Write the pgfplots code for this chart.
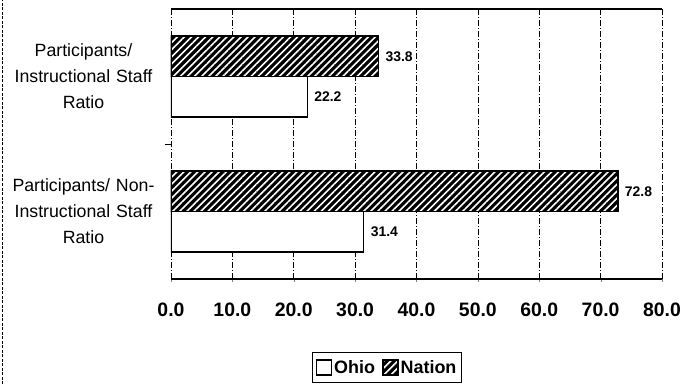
\documentclass[border=0pt]{standalone}
\usepackage{fontspec}
\setmainfont{Liberation Sans}
\usepackage{pgfplots}
\pgfplotsset{compat=1.18}
\usetikzlibrary{patterns.meta}

\begin{document}
\begin{tikzpicture}
\useasboundingbox (-171bp,-105bp) rectangle (523bp,279bp);
\draw[black, dash pattern=on 3bp off 1.5bp, line width=0.8pt] (-169bp,-105bp) -- (-169bp,279bp);
\begin{axis}[
  at={(0,0)}, anchor=south west,
  scale only axis, width=491bp, height=270bp,
  xbar, bar width=0.3,
  xmin=0, xmax=80, ymin=0.5, ymax=2.5,
  xtick={0,10,...,80},
  xtick pos=left, xtick align=outside,
  major tick length=3bp,
  xticklabel style={font=\fontsize{19.5}{22}\selectfont\bfseries, yshift=-17bp,
     /pgf/number format/fixed, /pgf/number format/fixed zerofill,
     /pgf/number format/precision=1, /pgf/number format/assume math mode=true},
  separate axis lines,
  x axis line style={line width=1.3pt},
  y axis line style={draw=none},
  xmajorgrids,
  grid style={black, dash pattern=on 6bp off 2bp on 1bp off 2bp, line width=0.7pt},
  ytick={1,2},
  yticklabels={{Participants/ Non-\\Instructional Staff\\Ratio},{Participants/\\Instructional Staff\\Ratio}},
  yticklabel style={align=center, text width=160bp, font=\fontsize{17.8}{26}\selectfont, xshift=-1bp},
  ytick style={draw=none},
  extra y ticks={1.5},
  extra y tick labels={},
  extra y tick style={ytick style={draw=black, line width=1pt}, ytick align=outside, ytick pos=left, major tick length=6bp, ymajorgrids=false},
  point meta=x,
  nodes near coords,
  nodes near coords style={font=\fontsize{14}{16}\selectfont\bfseries, anchor=west, xshift=3bp,
     /pgf/number format/fixed, /pgf/number format/fixed zerofill,
     /pgf/number format/precision=1, /pgf/number format/assume math mode=true},
  legend style={at={(0.44,-0.270)}, anchor=north, legend columns=2, draw=black, line width=0.8pt,
     font=\fontsize{18}{20}\selectfont\bfseries, inner xsep=3bp, inner ysep=6bp,
     /tikz/every even column/.append style={column sep=5bp}},
  legend image code/.code={\draw[#1, line width=1.6pt] (0bp,-7.5bp) rectangle (15bp,7.5bp);},
]
\addplot[draw=black, line width=1.5pt, fill=white, bar shift=0pt] coordinates {(22.2,1.85) (31.4,0.85)};
\addlegendentry{Ohio}
\addplot[draw=black, line width=1.5pt, fill=black, bar shift=0pt,
  postaction={pattern={Lines[angle=45,distance=5bp,line width=1.6bp]}, pattern color=white}]
  coordinates {(33.8,2.15) (72.8,1.15)};
\addlegendentry{Nation}
\end{axis}
\end{tikzpicture}
\end{document}
